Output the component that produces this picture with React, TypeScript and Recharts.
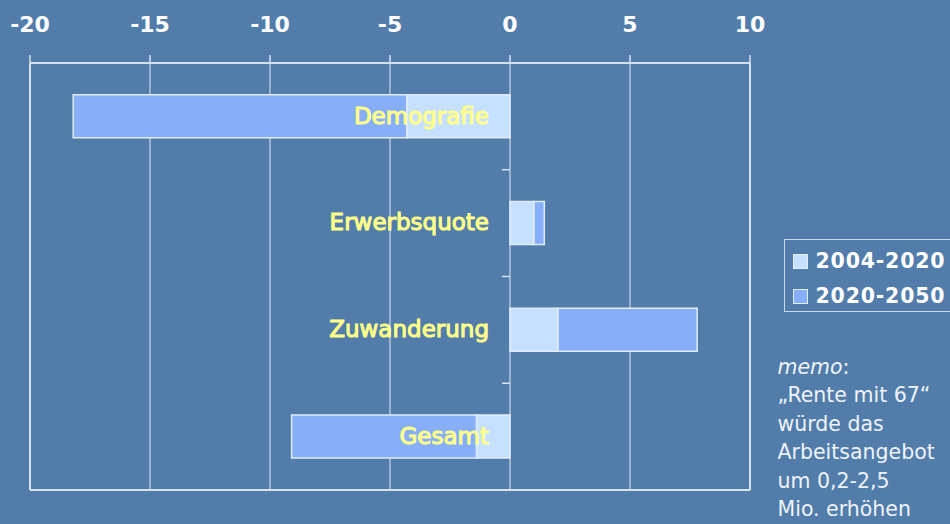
import React from 'react';
import { BarChart, Bar, XAxis, YAxis, CartesianGrid, ReferenceLine, LabelList, Legend } from 'recharts';

// ---- data ----
const categories = ['Demografie', 'Erwerbsquote', 'Zuwanderung', 'Gesamt'];
const period1 = [-4.3, 1.0, 2.0, -1.4]; // 2004-2020
const period2 = [-13.9, 0.43, 5.8, -7.7]; // 2020-2050
const seriesNames = ['2004-2020', '2020-2050'];
const xTicks = [-20, -15, -10, -5, 0, 5, 10];
const xDomain = [-20, 10];
const bandPositions = [0.5, 1.5, 2.5, 3.5];
const categoryBoundaries = [0, 1, 2, 3, 4];
const memoLines = ['„Rente mit 67“', 'würde das', 'Arbeitsangebot', 'um 0,2-2,5', 'Mio. erhöhen'];

// ---- style ----
const BG = '#527DAA';
const seriesColors = ['#C6E1FF', '#87AFF9'];
const BAR_STROKE = '#E2ECF8';
const GRID = '#B3C4DA';
const FRAME = '#D8E1EC';
const LABEL_YELLOW = '#FFFF8A';
const FONT = '"DejaVu Sans", Verdana, sans-serif';
const yTickLen = 1 / 3;

const data = categories.map((name, i) => ({ name, p1: period1[i], p2: period2[i], pos: bandPositions[i] }));

const renderCategoryLabel = (props: any) => {
  const vb = props.viewBox && typeof props.viewBox.x === 'number' ? props.viewBox : props;
  const x = Number(vb.x);
  const w = Number(vb.width);
  const y = Number(vb.y);
  const h = Number(vb.height);
  let i = typeof props.index === 'number' ? props.index : categories.indexOf(props.value);
  if (i < 0) i = 0;
  const v1 = period1[i];
  const v2 = period2[i];
  const a = x;
  const b = x + w;
  const ppu = Math.abs(b - a) / Math.abs(v2);
  const near = v1 < 0 ? Math.max(a, b) : Math.min(a, b);
  const zero = near - v1 * ppu;
  return (
    <text
      x={zero - 21}
      y={y + h / 2 + 7.5}
      textAnchor="end"
      fill={LABEL_YELLOW}
      stroke={LABEL_YELLOW}
      strokeWidth={1.05}
      fontSize={23}
      fontFamily={FONT}
    >
      {categories[i]}
    </text>
  );
};

const LegendBox = () => (
  <div
    style={{
      boxSizing: 'border-box',
      width: 180,
      height: 73,
      border: '1.5px solid #C9D6E6',
      paddingTop: 4,
      paddingLeft: 7.5,
      fontFamily: FONT,
      fontWeight: 'bold',
      fontSize: 20.5,
      letterSpacing: 0.8,
      color: '#FFFFFF',
    }}
  >
    {seriesNames.map((n, i) => (
      <div key={n} style={{ height: 34.5, lineHeight: '34.5px', display: 'flex', alignItems: 'center' }}>
        <span
          style={{
            display: 'inline-block',
            boxSizing: 'border-box',
            width: 15,
            height: 15,
            background: seriesColors[i],
            border: '1px solid #E6EEF8',
            marginRight: 8,
            marginTop: 1,
          }}
        />
        <span>{n}</span>
      </div>
    ))}
  </div>
);

export default function App() {
  return (
    <div
      style={{
        position: 'fixed',
        left: 0,
        top: 0,
        width: 950,
        height: 524,
        background: BG,
        overflow: 'hidden',
      }}
    >
      <BarChart
        width={950}
        height={524}
        data={data}
        layout="vertical"
        margin={{ top: 0, right: 200, bottom: 33, left: 30 }}
        barCategoryGap="29.7%"
      >
        <CartesianGrid horizontal={false} stroke={GRID} strokeWidth={1.5} />
        <XAxis
          type="number"
          orientation="top"
          domain={xDomain}
          ticks={xTicks}
          interval={0}
          allowDataOverflow
          height={63}
          tickSize={8}
          tickMargin={23}
          axisLine={{ stroke: FRAME, strokeWidth: 2 }}
          tickLine={{ stroke: FRAME, strokeWidth: 1.5 }}
          tick={{ fill: '#FFFFFF', fontSize: 22, fontFamily: FONT, fontWeight: 'bold' }}
        />
        <XAxis
          xAxisId="bottom"
          type="number"
          orientation="bottom"
          domain={xDomain}
          allowDataOverflow
          height={1}
          tick={false}
          tickLine={false}
          axisLine={{ stroke: FRAME, strokeWidth: 2 }}
        />
        <YAxis type="category" dataKey="name" hide />
        <YAxis yAxisId="g" type="number" dataKey="pos" domain={[0, 4]} allowDataOverflow reversed hide />
        <ReferenceLine x={xDomain[0]} stroke={FRAME} strokeWidth={2} ifOverflow="visible" />
        <ReferenceLine x={xDomain[1]} stroke={FRAME} strokeWidth={2} ifOverflow="visible" />
        {categoryBoundaries.map((k) => (
          <ReferenceLine
            key={k}
            yAxisId="g"
            segment={[
              { x: -yTickLen, y: k },
              { x: 0, y: k },
            ]}
            stroke={FRAME}
            strokeWidth={1.5}
            ifOverflow="visible"
          />
        ))}
        <Bar
          dataKey="p1"
          name={seriesNames[0]}
          stackId="s"
          fill={seriesColors[0]}
          stroke={BAR_STROKE}
          strokeWidth={1.5}
          isAnimationActive={false}
        />
        <Bar
          dataKey="p2"
          name={seriesNames[1]}
          stackId="s"
          fill={seriesColors[1]}
          stroke={BAR_STROKE}
          strokeWidth={1.5}
          isAnimationActive={false}
        >
          <LabelList dataKey="name" content={renderCategoryLabel} />
        </Bar>
        <Legend
          layout="vertical"
          align="center"
          verticalAlign="middle"
          wrapperStyle={{ left: 784, top: 239, width: 180, height: 73 }}
          content={() => <LegendBox />}
        />
      </BarChart>
      <div
        style={{
          position: 'absolute',
          left: 777.5,
          top: 352.5,
          fontFamily: FONT,
          fontSize: 20.5,
          lineHeight: '28.5px',
          color: '#EEF3F9',
          whiteSpace: 'nowrap',
        }}
      >
        <div>
          <i>memo</i>:
        </div>
        {memoLines.map((l) => (
          <div key={l}>{l}</div>
        ))}
      </div>
    </div>
  );
}
